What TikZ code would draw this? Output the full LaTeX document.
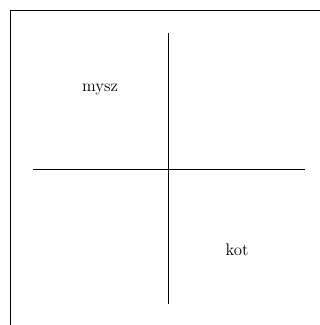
\documentclass[tikz,border=0pt]{standalone}
\begin{document}
\begin{tikzpicture}[x=.025cm,y=-.025cm]
  \useasboundingbox (0,0) rectangle (320,325);
  % ramka
  \draw (10,325) -- (10,10.5) -- (320,10.5);
  % osie
  \coordinate (top) at (168.5,33);
  \coordinate (bottom) at (168.5,304);
  \coordinate (left) at (33,169);
  \coordinate (right) at (305,169);
  \draw (top) -- (bottom);
  \draw (left) -- (right);
  \node[font=\large] (mysz) at (100,89) {mysz};
  \node[font=\large] (kot) at (237,250) {kot};
\end{tikzpicture}
\end{document}
